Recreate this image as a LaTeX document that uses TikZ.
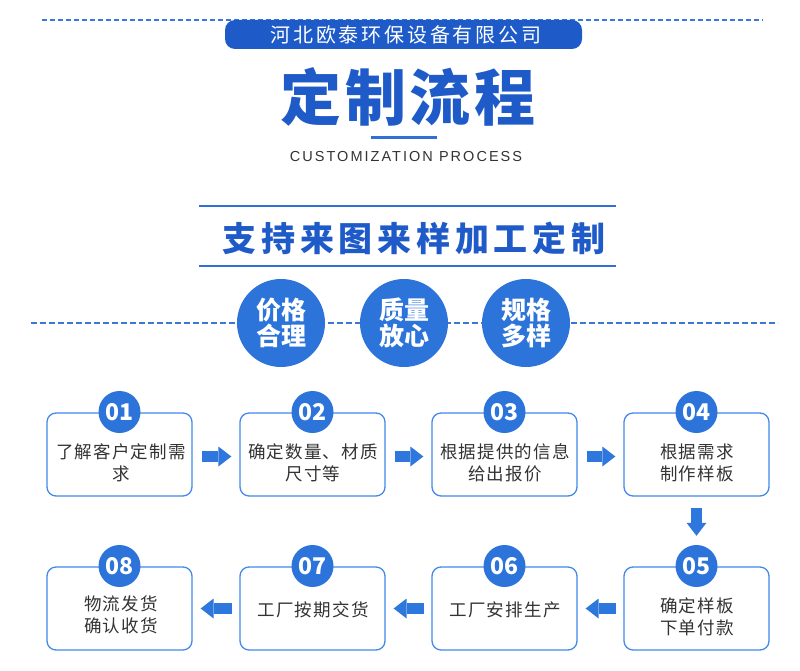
\documentclass[tikz,border=0pt]{standalone}
\usepackage{fontspec}
\usetikzlibrary{arrows.meta}
\newfontfamily\cjk{Noto Sans CJK SC}
\newfontfamily\cjkbox[LetterSpace=7]{Noto Sans CJK SC}
\newfontfamily\cjkbanner[LetterSpace=14]{Noto Sans CJK SC}
\newfontfamily\cjktitle[LetterSpace=6]{Noto Sans CJK SC}
\newfontfamily\cjksub[LetterSpace=14]{Noto Sans CJK SC}
\newfontfamily\latinsp[LetterSpace=14]{Liberation Sans}
\definecolor{bannerc}{HTML}{1F5BC8}
\definecolor{circc}{HTML}{2C74DA}
\definecolor{arrc}{HTML}{2E77DC}
\definecolor{boxc}{HTML}{4289E8}
\definecolor{linec}{HTML}{2F6FD6}
\definecolor{dashc}{HTML}{3A78D8}
\definecolor{txt}{HTML}{333333}
\begin{document}
\begin{tikzpicture}[x=1pt,y=-1pt,
  box/.style={draw=boxc, line width=1.3pt, rounded corners=9pt, minimum width=145pt, minimum height=83pt, fill=white, inner sep=0pt},
  btext/.style={align=center, font=\cjkbox\fontsize{17.5}{22}\selectfont, text=txt, inner sep=0pt},
  badge/.style={circle, fill=circc, minimum size=42pt, inner sep=0pt, text=white, font=\cjk\bfseries\fontsize{23}{23}\selectfont},
  bigc/.style={circle, fill=circc, minimum size=88pt, inner sep=0pt, text=white, align=center, font=\cjk\bfseries\fontsize{25}{26}\selectfont},
  flow/.style={draw=arrc, line width=11pt, -{Triangle[length=13pt,width=20pt,line width=0pt]}},
  dashline/.style={draw=dashc, line width=1.3pt, dash pattern=on 5pt off 3pt}
]
\useasboundingbox (0,0) rectangle (800,671);
% header
\draw[dashline] (42,20) -- (763,20);
\fill[bannerc, rounded corners=10pt] (225,20) rectangle (582,49);
\node[text=white, font=\cjkbanner\fontsize{20}{20}\selectfont, inner sep=0pt] (company) at (406,35) {河北欧泰环保设备有限公司};
\node[text=bannerc, font=\cjktitle\bfseries\fontsize{61}{61}\selectfont, inner sep=0pt] (title) at (408,97) {定制流程};
\draw[linec, line width=3pt] (371,138) -- (437,138);
\node[text=txt, font=\latinsp\fontsize{14.5}{14.5}\selectfont, inner sep=0pt] (sub) at (406,157) {CUSTOMIZATION PROCESS};
\draw[linec, line width=1.2pt] (199,206) -- (616,206);
\draw[linec, line width=1.2pt] (199,266) -- (616,266);
\node[text=bannerc, font=\cjksub\bfseries\fontsize{34}{34}\selectfont, inner sep=0pt] (slogan) at (414,238) {支持来图来样加工定制};
\draw[dashline, dash pattern=on 6pt off 3pt] (31,323) -- (778,323);
\node[bigc] (c1) at (281,323) {价格\\合理};
\node[bigc] (c2) at (404,323) {质量\\放心};
\node[bigc] (c3) at (526,323) {规格\\多样};
% boxes row 1
\node[box] (b1) at (119.5,454.5) {};
\node[box] (b2) at (312.5,454.5) {};
\node[box] (b3) at (504.5,454.5) {};
\node[box] (b4) at (696.5,454.5) {};
% boxes row 2
\node[box] (b8) at (119.5,608.5) {};
\node[box] (b7) at (312.5,608.5) {};
\node[box] (b6) at (504.5,608.5) {};
\node[box] (b5) at (696.5,608.5) {};
% badges
\node[badge] (n1) at (119.5,412) {01};
\node[badge] (n2) at (312.5,412) {02};
\node[badge] (n3) at (504.5,412) {03};
\node[badge] (n4) at (696.5,412) {04};
\node[badge] (n8) at (119.5,566) {08};
\node[badge] (n7) at (312.5,566) {07};
\node[badge] (n6) at (504.5,566) {06};
\node[badge] (n5) at (696.5,566) {05};
% texts
\node[btext] (t1) at (121,463) {了解客户定制需\\求};
\node[btext] (t2) at (313,463) {确定数量、材质\\尺寸等};
\node[btext] (t3) at (505,463) {根据提供的信息\\给出报价};
\node[btext] (t4) at (697,463) {根据需求\\制作样板};
\node[btext] (t5) at (697,617) {确定样板\\下单付款};
\node[btext] (t6) at (505,610) {工厂安排生产};
\node[btext] (t7) at (313,610) {工厂按期交货};
\node[btext] (t8) at (121,615) {物流发货\\确认收货};
% arrows
\draw[flow, shorten <=9pt, shorten >=8pt] ([yshift=-2pt]b1.east) -- ([yshift=-2pt]b2.west);
\draw[flow, shorten <=9pt, shorten >=8pt] ([yshift=-2pt]b2.east) -- ([yshift=-2pt]b3.west);
\draw[flow, shorten <=9pt, shorten >=8pt] ([yshift=-2pt]b3.east) -- ([yshift=-2pt]b4.west);
\draw[flow, shorten <=11pt, shorten >=9pt] (b4.south) -- (n5.north);
\draw[flow, shorten <=7pt, shorten >=8pt] (b5.west) -- (b6.east);
\draw[flow, shorten <=7pt, shorten >=8pt] (b6.west) -- (b7.east);
\draw[flow, shorten <=7pt, shorten >=8pt] (b7.west) -- (b8.east);
\end{tikzpicture}
\end{document}
